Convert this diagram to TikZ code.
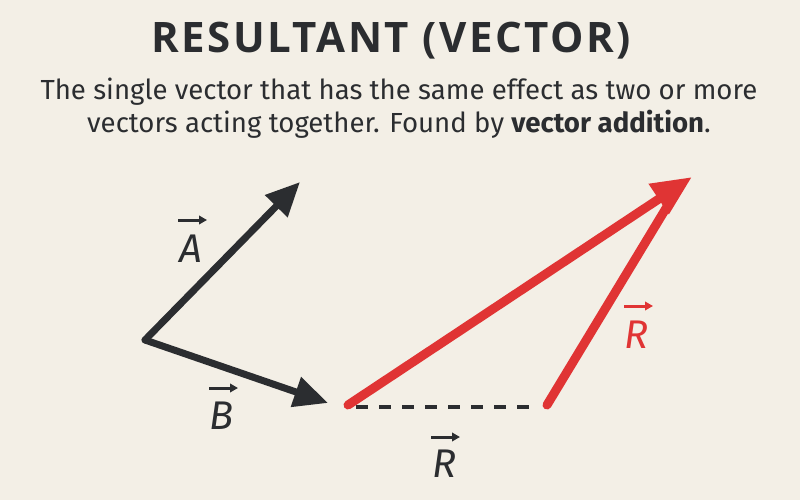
\documentclass[tikz,border=0pt]{standalone}
\usepackage{fontspec}
\setmainfont{Fira Sans}
\newfontfamily\titlefont[LetterSpace=6]{Open Sans}
\usetikzlibrary{arrows.meta}
\definecolor{bg}{HTML}{F3EFE6}
\definecolor{ink}{HTML}{2B2D30}
\definecolor{vred}{HTML}{E03434}
\tikzset{
  blackvec/.style={draw=ink, line width=7pt, line join=round, line cap=round,
    -{Triangle[length=34pt,width=30pt]}},
  redvec/.style={draw=vred, line width=9pt, line cap=round},
  vlabel/.style={font=\fontsize{40}{44}\selectfont\itshape, inner sep=0pt, anchor=base},
  lblarrow/.style={line width=3pt, -{Triangle[length=8pt,width=8.5pt]}},
  subtext/.style={font=\fontsize{27.6}{33}\selectfont, text=ink, anchor=base, inner sep=0pt},
}
\begin{document}
\begin{tikzpicture}[x=1pt,y=-1pt]
\useasboundingbox[fill=bg] (0,0) rectangle (800,500);
% texts
\node[font=\titlefont\fontsize{42}{48}\selectfont\bfseries, text=ink, anchor=base, inner sep=0pt] (title) at (391,53) {RESULTANT (VECTOR)};
\node[subtext] (sub1) at (399,100) {The single vector that has the same effect as two or more};
\node[subtext] (sub2) at (399,132) {vectors acting together. Found by \textbf{vector addition}.};
% coordinates
\coordinate (O) at (145,340);
\coordinate (At) at (300,182);
\coordinate (Bt) at (328,403);
\coordinate (Rs) at (348,405);
\coordinate (Rt) at (692,177);
\coordinate (Cs) at (547,405);
\coordinate (Ce) at (668,205);
\coordinate (Ds) at (356,407);
\coordinate (De) at (538,407);
% black vectors
\draw[blackvec] (O) -- (At);
\draw[blackvec] (O) -- (Bt);
% dashed
\draw[ink, line width=4.5pt, dash pattern=on 12pt off 11pt] (Ds) -- (De);
% red
\draw[redvec] (Cs) -- (Ce);
\draw[redvec, -{Triangle[length=40pt,width=34pt]}] (Rs) -- (Rt);
% labels
\node[vlabel, text=ink] (LA) at (191,262) {A};
\draw[ink, lblarrow] ([xshift=-13pt, yshift=42pt]LA.base) -- ++(29,0);
\node[vlabel, text=ink] (LB) at (222,429) {B};
\draw[ink, lblarrow] ([xshift=-13pt, yshift=41pt]LB.base) -- ++(29,0);
\node[vlabel, text=vred] (LR) at (636,348) {R};
\draw[vred, lblarrow] ([xshift=-12pt, yshift=42pt]LR.base) -- ++(29,0);
\node[vlabel, text=ink] (LR2) at (444,477) {R};
\draw[ink, lblarrow] ([xshift=-13pt, yshift=40pt]LR2.base) -- ++(29,0);
\end{tikzpicture}
\end{document}
